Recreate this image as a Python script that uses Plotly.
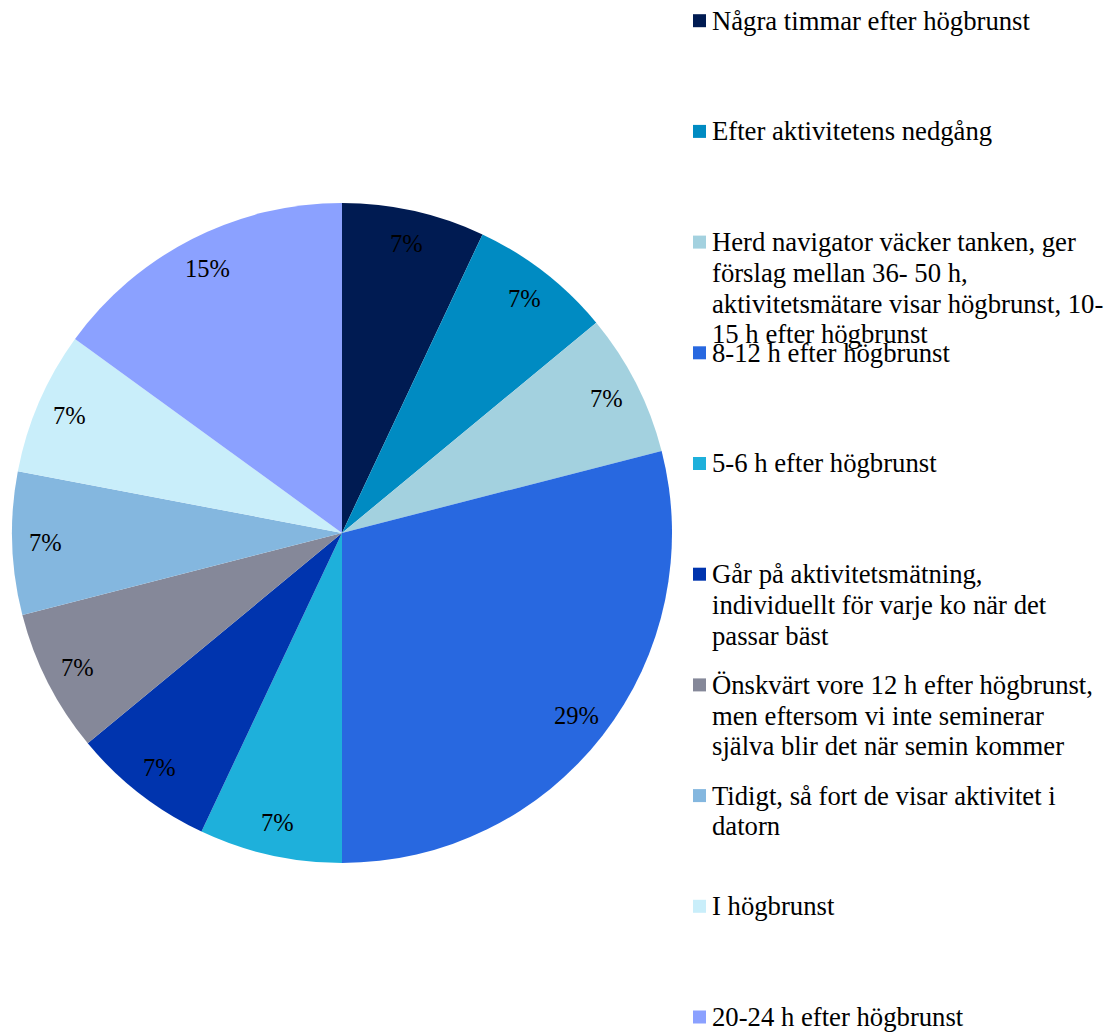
import math
import plotly.graph_objects as go

# Answer categories (line breaks used in the legend column)
labels = [
    "Några timmar efter högbrunst",
    "Efter aktivitetens nedgång",
    "Herd navigator väcker tanken, ger\nförslag mellan 36- 50 h,\naktivitetsmätare visar högbrunst, 10-\n15 h efter högbrunst",
    "8-12 h efter högbrunst",
    "5-6 h efter högbrunst",
    "Går på aktivitetsmätning,\nindividuellt för varje ko när det\npassar bäst",
    "Önskvärt vore 12 h efter högbrunst,\nmen eftersom vi inte seminerar\nsjälva blir det när semin kommer",
    "Tidigt, så fort de visar aktivitet i\ndatorn",
    "I högbrunst",
    "20-24 h efter högbrunst",
]
# Share of answers, percent
percent = [7, 7, 7, 29, 7, 7, 7, 7, 7, 15]

colors = [
    "#001B52", "#008BC2", "#A3D1DF", "#2868E0", "#1EB0DB",
    "#0034AE", "#858899", "#84B7DF", "#C9EEFA", "#8BA1FF",
]

W, H = 1113, 1034
FONT = "Liberation Serif, Times New Roman, Times, serif"

# Pie geometry in pixels
cx, cy, R = 342, 533, 330

fig = go.Figure()
fig.add_trace(go.Pie(
    labels=[l.replace("\n", " ") for l in labels],
    values=percent,
    sort=False,
    direction="clockwise",
    rotation=0,
    textinfo="none",
    marker=dict(colors=colors, line=dict(width=0)),
    domain=dict(x=[(cx - R) / W, (cx + R) / W],
                y=[(H - cy - R) / H, (H - cy + R) / H]),
    showlegend=False,
    hoverinfo="label+percent",
))

# Percent labels placed near the outer end of each slice
total = sum(percent)
cum = 0
annotations = []
for v in percent:
    mid = (cum + v / 2) / total * 2 * math.pi
    cum += v
    r = 0.90 * R
    px = cx + r * math.sin(mid)
    py = cy - r * math.cos(mid)
    annotations.append(dict(
        x=px / W, y=1 - py / H, xref="paper", yref="paper",
        text=f"{v}%", showarrow=False,
        font=dict(family=FONT, size=24.5, color="black"),
        xanchor="center", yanchor="middle",
    ))

# Legend column on the right, one annotation per text line
shapes = []
step = 110.7
line_gap = 30.7
for i, (lab, col) in enumerate(zip(labels, colors)):
    yc = 20.7 + i * step
    shapes.append(dict(
        type="rect", xref="paper", yref="paper",
        x0=693 / W, x1=706 / W,
        y0=1 - (yc + 6.5) / H, y1=1 - (yc - 6.5) / H,
        fillcolor=col, line=dict(width=0),
    ))
    for j, line in enumerate(lab.split("\n")):
        ly = yc + j * line_gap
        annotations.append(dict(
            x=710 / W, y=1 - ly / H, xref="paper", yref="paper",
            text=line, showarrow=False, align="left",
            font=dict(family=FONT, size=26.7, color="black"),
            xanchor="left", yanchor="middle",
        ))

fig.update_layout(
    width=W, height=H,
    margin=dict(l=0, r=0, t=0, b=0),
    paper_bgcolor="white", plot_bgcolor="white",
    annotations=annotations, shapes=shapes,
    showlegend=False,
)

fig.write_html("out.html")
